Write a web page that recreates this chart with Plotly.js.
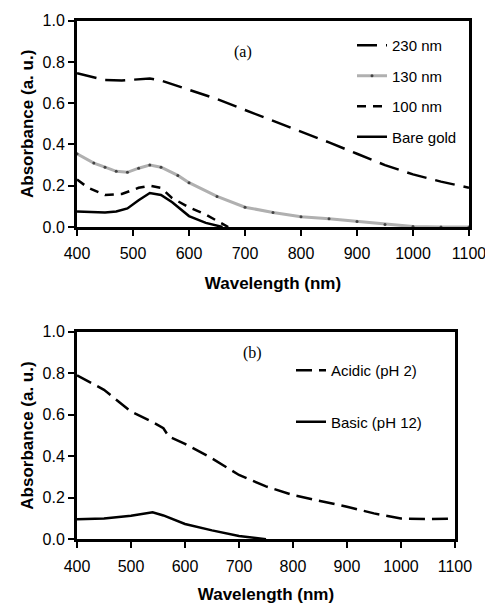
<!DOCTYPE html>
<html>
<head>
<meta charset="utf-8">
<script src="https://cdn.plot.ly/plotly-3.0.1.min.js"></script>
<style>html,body{margin:0;padding:0;background:#fff;}#chart{width:485px;height:604px;}</style>
</head>
<body>
<div id="chart"></div>
<script>
// Panel (a)
const wl230 = [400, 430, 450, 480, 500, 530, 550, 600, 650, 700, 750, 800, 850, 900, 950, 1000, 1050, 1100];
const abs230 = [0.745, 0.725, 0.712, 0.71, 0.713, 0.72, 0.71, 0.665, 0.62, 0.567, 0.515, 0.463, 0.41, 0.355, 0.30, 0.255, 0.22, 0.19];
const wl130 = [400, 430, 450, 470, 490, 510, 530, 550, 580, 600, 650, 700, 750, 800, 850, 900, 950, 1000, 1050, 1100];
const abs130 = [0.355, 0.31, 0.29, 0.27, 0.265, 0.285, 0.30, 0.29, 0.25, 0.215, 0.148, 0.096, 0.07, 0.05, 0.04, 0.027, 0.012, 0.002, 0.0, 0.0];
const wl100 = [400, 420, 450, 480, 510, 530, 550, 570, 600, 630, 650, 670];
const abs100 = [0.23, 0.19, 0.155, 0.16, 0.19, 0.20, 0.19, 0.14, 0.095, 0.06, 0.03, 0.0];
const wlGold = [400, 430, 450, 470, 490, 510, 530, 550, 570, 600, 630, 660];
const absGold = [0.075, 0.07, 0.07, 0.075, 0.09, 0.13, 0.165, 0.155, 0.12, 0.053, 0.02, 0.0];
const namesA = ["230 nm", "130 nm", "100 nm", "Bare gold"];

// Panel (b)
const wlAcid = [400, 450, 500, 540, 560, 570, 600, 650, 700, 750, 800, 850, 900, 950, 1000, 1050, 1100];
const absAcid = [0.79, 0.72, 0.615, 0.565, 0.535, 0.495, 0.46, 0.39, 0.31, 0.255, 0.213, 0.185, 0.157, 0.125, 0.10, 0.098, 0.10];
const wlBasic = [400, 450, 500, 540, 560, 600, 650, 700, 750];
const absBasic = [0.097, 0.10, 0.113, 0.13, 0.115, 0.074, 0.043, 0.016, 0.0];
const namesB = ["Acidic (pH 2)", "Basic (pH 12)"];

const xTicks = [400, 500, 600, 700, 800, 900, 1000, 1100];
const yTicks = [0.0, 0.2, 0.4, 0.6, 0.8, 1.0];
const yTickText = ["0.0", "0.2", "0.4", "0.6", "0.8", "1.0"];

const traces = [
  {x: wl230, y: abs230, name: namesA[0], mode: "lines", line: {color: "#000", width: 2.5, dash: "20px,9px"}, legend: "legend", legendgroup: "a1", xaxis: "x", yaxis: "y"},
  {x: wl130, y: abs130, name: namesA[1], mode: "lines+markers", line: {color: "#b0b0b0", width: 3}, marker: {color: "#444", size: 3}, legend: "legend", legendgroup: "a2", xaxis: "x", yaxis: "y"},
  {x: wl100, y: abs100, name: namesA[2], mode: "lines", line: {color: "#000", width: 2.5, dash: "9px,7px"}, legend: "legend", legendgroup: "a3", xaxis: "x", yaxis: "y"},
  {x: wlGold, y: absGold, name: namesA[3], mode: "lines", line: {color: "#000", width: 2.5}, legend: "legend", legendgroup: "a4", xaxis: "x", yaxis: "y"},
  {x: wlAcid, y: absAcid, name: namesB[0], mode: "lines", line: {color: "#000", width: 2.5, dash: "16px,7px"}, legend: "legend2", legendgroup: "b1", xaxis: "x2", yaxis: "y2"},
  {x: wlBasic, y: absBasic, name: namesB[1], mode: "lines", line: {color: "#000", width: 2.5}, legend: "legend2", legendgroup: "b2", xaxis: "x2", yaxis: "y2"}
];

const tickFont = {family: "Liberation Sans, Arial, sans-serif", size: 16, color: "#000"};
const titleFont = {family: "Liberation Sans, Arial, sans-serif", size: 17, color: "#000", weight: "bold"};

function xAxis(domain, anchor) {
  return {
    domain: domain, anchor: anchor, range: [400, 1100], tickvals: xTicks, ticktext: xTicks.map(String),
    showline: true, linecolor: "#000", linewidth: 3, mirror: true, showgrid: false, zeroline: false,
    ticks: "outside", ticklen: 6, tickwidth: 2, tickcolor: "#000", tickfont: tickFont, ticklabeloverflow: "allow",
    ticklabelstandoff: 4,
    title: {text: "Wavelength (nm)", font: titleFont, standoff: 16}, automargin: false
  };
}
function yAxis(domain, anchor) {
  return {
    domain: domain, anchor: anchor, range: [0, 1], tickvals: yTicks, ticktext: yTickText,
    showline: true, linecolor: "#000", linewidth: 3, mirror: true, showgrid: false, zeroline: false,
    ticks: "outside", ticklen: 6, tickwidth: 2, tickcolor: "#000", tickfont: tickFont,
    title: {text: "Absorbance (a. u.)", font: titleFont, standoff: 5}, automargin: false
  };
}

const legendFont = {family: "Liberation Sans, Arial, sans-serif", size: 15, color: "#000"};

const layout = {
  width: 485, height: 604,
  margin: {l: 0, r: 0, t: 0, b: 0},
  paper_bgcolor: "#fff", plot_bgcolor: "#fff",
  showlegend: true,
  xaxis: xAxis([0.1588, 0.967], "y"),
  yaxis: yAxis([0.6242, 0.9657], "x"),
  xaxis2: xAxis([0.1588, 0.938], "y2"),
  yaxis2: yAxis([0.1071, 0.4508], "x2"),
  legend: {x: 352 / 485, y: 1 - 29 / 604, xanchor: "left", yanchor: "top", bgcolor: "rgba(0,0,0,0)", font: legendFont, traceorder: "grouped", tracegroupgap: 8},
  legend2: {x: 291 / 485, y: 1 - 354 / 604, xanchor: "left", yanchor: "top", bgcolor: "rgba(0,0,0,0)", font: legendFont, traceorder: "grouped", tracegroupgap: 29},
  annotations: [
    {text: "(a)", xref: "paper", yref: "paper", x: 243 / 485, y: 1 - 41 / 604, showarrow: false, font: {family: "Liberation Serif, Times New Roman, serif", size: 16, color: "#000"}},
    {text: "(b)", xref: "paper", yref: "paper", x: 252 / 485, y: 1 - 353 / 604, showarrow: false, font: {family: "Liberation Serif, Times New Roman, serif", size: 16, color: "#000"}}
  ]
};

Plotly.newPlot("chart", traces, layout, {displayModeBar: false, staticPlot: true});
</script>
</body>
</html>
